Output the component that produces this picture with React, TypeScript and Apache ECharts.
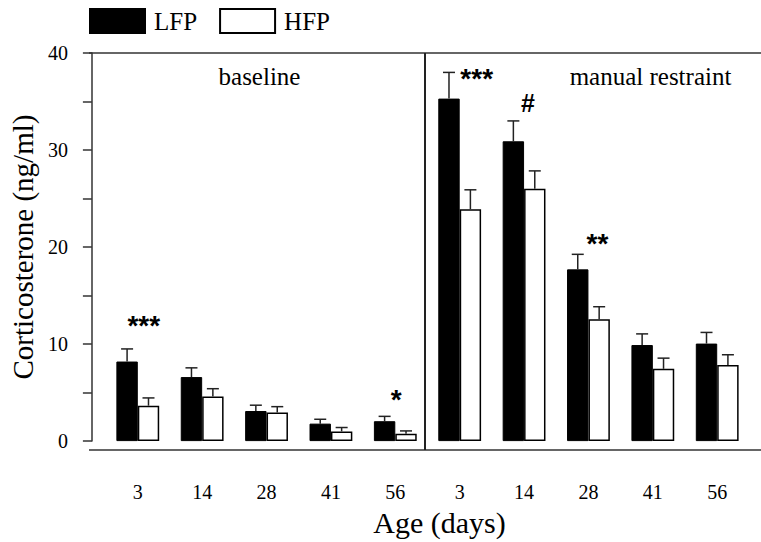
import React, { useEffect, useRef } from "react";
import * as echarts from "echarts";

// ---- data ----
const categories = ["3", "14", "28", "41", "56", "3", "14", "28", "41", "56"];
const lfp = [8.2, 6.6, 3.1, 1.8, 2.05, 35.3, 30.9, 17.7, 9.9, 10.05];
const lfpErr = [1.3, 0.95, 0.6, 0.45, 0.5, 2.7, 2.1, 1.55, 1.15, 1.15];
const hfp = [3.65, 4.6, 2.95, 1.0, 0.75, 23.9, 26.0, 12.55, 7.45, 7.85];
const hfpErr = [0.8, 0.8, 0.6, 0.4, 0.3, 2.0, 1.85, 1.3, 1.1, 1.05];
const signif = ["***", "", "", "", "*", "***", "#", "**", "", ""];
const yTicks = [0, 10, 20, 30, 40];
const panelTitles = ["baseline", "manual restraint"];

// ---- layout (pixels) ----
const SERIF = "'Liberation Serif', 'Times New Roman', serif";
const SANS = "'Liberation Sans', Arial, sans-serif";
const CAT_GAP = 0.335;
const annotationPlacement: Record<number, [number, number]> = {
  0: [6, 31],
  4: [1, 25],
  5: [17, 2],
  6: [4, 18],
  7: [9, 19],
};

export default function App() {
  const ref = useRef<HTMLDivElement>(null);
  useEffect(() => {
    if (!ref.current) return;
    const chart = echarts.init(ref.current, undefined, { renderer: "svg" });

    const errData = categories.map((_, i) => [i, lfp[i], lfpErr[i], hfp[i], hfpErr[i]]);
    const annData = categories
      .map((_, i) => [i, lfp[i] + lfpErr[i], signif[i]])
      .filter((d) => d[2] !== "");

    const option: any = {
      animation: false,
      backgroundColor: "#fff",
      legend: {
        left: 89,
        top: 8,
        padding: 0,
        itemWidth: 55,
        itemHeight: 24,
        itemGap: 22,
        icon: "rect",
        data: ["LFP", "HFP"],
        textStyle: { fontFamily: SERIF, fontSize: 25, color: "#000", padding: [0, 0, 0, 4] },
      },
      grid: { left: 102.7, right: 11.6, top: 53, bottom: 92 },
      xAxis: {
        type: "category",
        data: categories,
        axisLine: { show: false },
        axisTick: { show: false },
        axisLabel: { fontFamily: SERIF, fontSize: 20, color: "#000", margin: 41 },
        name: "Age (days)",
        nameLocation: "middle",
        nameGap: 57,
        nameTextStyle: { fontFamily: SERIF, fontSize: 30, color: "#000", padding: [0, 0, 0, 24] },
      },
      yAxis: {
        type: "value",
        min: 0,
        max: 40,
        interval: 5,
        offset: 13.7,
        splitLine: { show: false },
        axisLine: { show: true, lineStyle: { color: "#333", width: 1.5 } },
        axisTick: { show: true, length: 9, lineStyle: { color: "#333", width: 1.5 } },
        axisLabel: {
          fontFamily: SERIF,
          fontSize: 20,
          color: "#000",
          margin: 24,
          formatter: (v: number) => (yTicks.includes(v) ? String(v) : ""),
        },
        name: "Corticosterone (ng/ml)",
        nameLocation: "middle",
        nameGap: 45,
        nameTextStyle: { fontFamily: SERIF, fontSize: 29, color: "#000" },
      },
      series: [
        {
          name: "LFP",
          type: "bar",
          data: lfp,
          barGap: "0%",
          barCategoryGap: CAT_GAP * 100 + "%",
          itemStyle: { color: "#000", borderColor: "#000", borderWidth: 1 },
        },
        {
          name: "HFP",
          type: "bar",
          data: hfp,
          itemStyle: { color: "#fff", borderColor: "#000", borderWidth: 1.5 },
        },
        {
          type: "custom",
          data: errData,
          encode: { x: 0, y: [1, 3] },
          z: 5,
          renderItem: (params: any, api: any) => {
            const i = api.value(0);
            const band = api.size([1, 0])[0];
            const bw = (band * (1 - CAT_GAP)) / 2;
            const children: any[] = [];
            const pairs = [
              [api.value(1), api.value(2), -bw / 2],
              [api.value(3), api.value(4), bw / 2],
            ];
            for (const [v, e, dx] of pairs) {
              const p0 = api.coord([i, v]);
              const p1 = api.coord([i, v + e]);
              const x = p0[0] + dx;
              const st = { stroke: "#222", lineWidth: 1.5 };
              children.push({ type: "line", shape: { x1: x, y1: p0[1], x2: x, y2: p1[1] }, style: st });
              children.push({ type: "line", shape: { x1: x - 6, y1: p1[1], x2: x + 6, y2: p1[1] }, style: st });
            }
            return { type: "group", children };
          },
        },
        {
          type: "custom",
          data: annData,
          encode: { x: 0, y: 1 },
          z: 6,
          renderItem: (params: any, api: any) => {
            const i = api.value(0);
            const d = annData[params.dataIndex];
            const label = d[2] as string;
            const p = api.coord([i, api.value(1)]);
            const [dx, dy] = annotationPlacement[i as number] || [0, 20];
            const isHash = label === "#";
            return {
              type: "text",
              x: p[0] + dx,
              y: p[1] - dy + (isHash ? 0 : 8),
              style: {
                text: label,
                fontFamily: SANS,
                fontSize: isHash ? 25 : 28,
                fontWeight: "bold",
                fill: "#000",
                align: "center",
                verticalAlign: "middle",
              },
            };
          },
        },
      ],
      graphic: [
        { type: "line", shape: { x1: 89, y1: 53, x2: 761, y2: 53 }, style: { stroke: "#333", lineWidth: 1.5 } },
        { type: "line", shape: { x1: 89, y1: 450, x2: 761, y2: 450 }, style: { stroke: "#333", lineWidth: 1.5 } },
        { type: "line", shape: { x1: 425, y1: 53, x2: 425, y2: 450 }, style: { stroke: "#222", lineWidth: 2 }, z: 10 },
        {
          type: "text",
          x: 259.5,
          y: 76,
          style: { text: panelTitles[0], fontFamily: SERIF, fontSize: 25, fill: "#000", align: "center", verticalAlign: "middle" },
        },
        {
          type: "text",
          x: 650.5,
          y: 76,
          style: { text: panelTitles[1], fontFamily: SERIF, fontSize: 25, fill: "#000", align: "center", verticalAlign: "middle" },
        },
      ],
    };
    chart.setOption(option);
    return () => chart.dispose();
  }, []);
  return (
    <div
      ref={ref}
      style={{ position: "absolute", left: 0, top: 0, width: 761, height: 542, background: "#fff" }}
    />
  );
}
